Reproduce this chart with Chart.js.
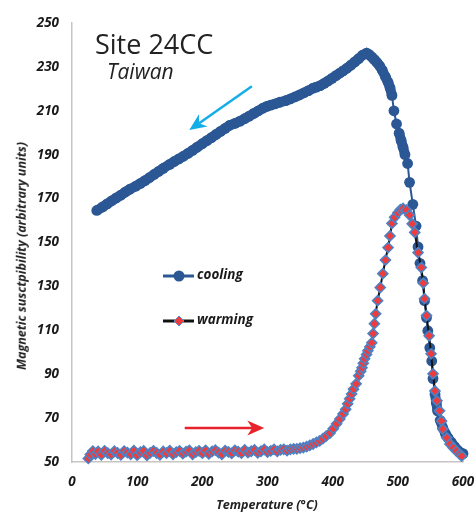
<!DOCTYPE html>
<html>
<head>
<meta charset="utf-8">
<script src="https://cdn.jsdelivr.net/npm/chart.js@4.4.1/dist/chart.umd.min.js"></script>
<style>
  html, body { margin: 0; padding: 0; background: #fff; }
  #wrap { position: relative; width: 475px; height: 512px; }
  .lbl { position: absolute; color: #222; white-space: nowrap; line-height: 1; font-family: "Open Sans", sans-serif; }
  #site { left: 95px; top: 30px; font-size: 27px; }
  #taiwan { left: 107px; top: 61px; font-size: 21px; font-style: italic; }
  .leg { font-size: 13.5px; font-weight: bold; font-style: italic; color: #1a1a1a; }
  #ytitle { left: 22px; top: 256px; font-size: 12.5px; font-weight: bold; font-style: italic;
            transform: translate(-50%, -50%) rotate(-90deg); }
  #xtitle { left: 267px; top: 505px; font-size: 12.5px; font-weight: bold; font-style: italic;
            transform: translate(-50%, -50%); }
</style>
</head>
<body>
<div id="wrap">
  <canvas id="chart" width="475" height="512"></canvas>
  <div class="lbl" id="site">Site 24CC</div>
  <div class="lbl" id="taiwan">Taiwan</div>
  <div class="lbl leg" style="left:197px; top:268px;">cooling</div>
  <div class="lbl leg" style="left:197px; top:313px;">warming</div>
  <div class="lbl" id="ytitle">Magnetic susctpibility (arbitrary units)</div>
  <div class="lbl" id="xtitle">Temperature (°C)</div>
</div>
<script>
// cooling run, in measurement order (600 °C down to room temperature)
const coolingT = [600, 596, 592, 587, 582, 577, 573, 569, 565, 561, 559, 557, 554, 552, 549, 546, 544, 541, 538, 534,
  531, 528, 523, 518, 515, 511, 508, 505, 502, 498, 494, 491, 488, 485, 481, 476, 472, 468, 464, 460,
  456, 452, 446, 440, 434, 428, 422, 416, 411, 405, 399, 393, 387, 381, 375, 370, 363, 356, 349, 342,
  335, 328, 319, 312, 305, 299, 293, 286, 279, 272, 265, 258, 250, 242, 235, 228, 221, 214, 207, 200,
  192, 185, 178, 171, 164, 157, 150, 140, 133, 126, 119, 112, 105, 98, 89, 82, 75, 68, 61, 54, 47, 38];
const coolingV = [53.8, 54.2, 55.3, 57, 59, 61, 63, 65.5, 69, 73.3, 77, 81, 88, 96, 102, 109.8, 115.8, 123.5, 132.6, 140.5,
  148, 157.5, 167.4, 177.4, 186, 190, 193.4, 196.5, 199.8, 204, 210, 217, 220.5, 223, 225.5, 228.5, 230.5, 232, 233.3, 234.5,
  235.6, 236.3, 235.4, 233.8, 232.3, 230.8, 229.4, 228.2, 227.2, 226, 224.8, 223.6, 222.5, 221.5, 220.8, 220.3, 219.2, 218.2, 217.2, 216.3,
  215.4, 214.6, 213.9, 213.2, 212.6, 212, 211.2, 210, 208.8, 207.6, 206.4, 205.3, 204.3, 203.4, 202, 200.6, 199.2, 197.8, 196.4, 195,
  193.4, 192, 190.6, 189.3, 188.1, 186.9, 185.6, 183.8, 182.4, 181, 179.6, 178.2, 176.9, 175.7, 174.3, 173, 171.6, 170.3, 169, 167.6, 166.2, 164.6];

// warming run, room temperature up to 600 °C
const warmingT = [25, 28, 32, 36, 40, 45, 50, 55, 60, 65, 70, 75, 80, 85, 90, 95, 100, 105, 110, 115,
  120, 125, 130, 135, 140, 145, 150, 155, 160, 165, 170, 175, 180, 185, 190, 195, 200, 205, 210, 215,
  220, 225, 230, 235, 240, 245, 250, 255, 260, 265, 270, 275, 280, 285, 290, 295, 300, 305, 310, 315,
  320, 325, 330, 335, 340, 345, 350, 355, 360, 365, 370, 375, 380, 385, 390, 396, 401, 406, 411, 416,
  420, 423, 426, 429, 432, 436, 440, 443, 445, 447, 449, 452, 454, 457, 460, 462, 464, 466, 469, 473,
  477, 481, 485, 488, 491, 495, 500, 504, 508, 513, 518, 522, 526, 531, 536, 539, 541, 544, 548, 551,
  554, 557, 560, 564, 567, 569, 575, 580, 585, 590, 595, 598];
const warmingV = [51.6, 53.4, 55.0, 53.6, 54.8, 53.3, 55.1, 54.0, 53.4, 54.9, 54.1, 53.2, 55.0, 54.3, 53.5, 55.2, 53.1, 54.5, 55.1, 53.0,
  54.2, 55.1, 54.1, 53.3, 54.8, 54.0, 55.2, 53.5, 54.5, 55.1, 53.8, 54.7, 55.3, 53.5, 54.5, 55.1, 54.0, 55.3, 53.7, 54.8,
  55.4, 54.3, 53.5, 55.2, 54.6, 53.9, 55.3, 54.7, 54.0, 55.5, 54.3, 54.9, 55.5, 54.2, 54.9, 55.7, 54.5, 55.1, 55.7, 54.8,
  55.5, 55.8, 55.2, 55.8, 56.0, 56.0, 56.3, 56.6, 57.0, 57.6, 58.2, 58.9, 59.6, 60.6, 61.8, 63.2, 65.2, 67.4, 69.6, 71.9,
  74, 76.5, 78.8, 81, 83.2, 85.6, 89.3, 91.3, 92.9, 95, 97, 99, 100.7, 102.5, 104.3, 108.5, 113, 117.5, 123.5, 129.5,
  135.8, 142, 147.7, 153, 158.7, 161.5, 163.5, 165, 165.5, 164.8, 162.5, 158.5, 154.6, 145.4, 138.6, 131.5, 124.4, 116.7, 107.5, 99.3,
  90.2, 82.4, 77.9, 73.3, 68.7, 65, 61, 58.2, 56.5, 55, 53.6, 52.7];

const xTicks = [0, 100, 200, 300, 400, 500, 600];
const yTicks = [50, 70, 90, 110, 130, 150, 170, 190, 210, 230, 250];

// arrows, in data units [T, value]
const arrows = [
  { from: [276, 221.2], to: [180, 201.2], color: '#13aee6' },
  { from: [173, 65.5], to: [295, 65.5], color: '#e8232b' }
];

const blue = '#2b5794';
const toPts = (xs, ys) => xs.map((t, i) => ({ x: t, y: ys[i] }));

function drawArrow(ctx, x1, y1, x2, y2, color) {
  const ang = Math.atan2(y2 - y1, x2 - x1);
  const len = 17, half = 7.5, notch = 12;
  ctx.save();
  ctx.strokeStyle = color;
  ctx.fillStyle = color;
  ctx.lineWidth = 2.5;
  ctx.beginPath();
  ctx.moveTo(x1, y1);
  ctx.lineTo(x2 - Math.cos(ang) * notch, y2 - Math.sin(ang) * notch);
  ctx.stroke();
  ctx.translate(x2, y2);
  ctx.rotate(ang);
  ctx.beginPath();
  ctx.moveTo(0, 0);
  ctx.lineTo(-len, -half);
  ctx.lineTo(-notch, 0);
  ctx.lineTo(-len, half);
  ctx.closePath();
  ctx.fill();
  ctx.restore();
}

const extras = {
  id: 'extras',
  afterDatasetsDraw(chart) {
    const { ctx, scales: { x, y } } = chart;
    arrows.forEach(a => drawArrow(ctx,
      x.getPixelForValue(a.from[0]), y.getPixelForValue(a.from[1]),
      x.getPixelForValue(a.to[0]), y.getPixelForValue(a.to[1]), a.color));

    // legend keys
    ctx.save();
    ctx.lineWidth = 3;
    ctx.strokeStyle = blue;
    ctx.beginPath(); ctx.moveTo(163, 276); ctx.lineTo(194, 276); ctx.stroke();
    ctx.fillStyle = blue;
    ctx.beginPath(); ctx.arc(179, 276, 5.5, 0, Math.PI * 2); ctx.fill();

    ctx.strokeStyle = '#111';
    ctx.beginPath(); ctx.moveTo(163, 321); ctx.lineTo(194, 321); ctx.stroke();
    ctx.beginPath();
    ctx.moveTo(179, 316); ctx.lineTo(184, 321); ctx.lineTo(179, 326); ctx.lineTo(174, 321); ctx.closePath();
    ctx.fillStyle = '#ef3b3b';
    ctx.fill();
    ctx.lineWidth = 1;
    ctx.strokeStyle = '#5b8bc9';
    ctx.stroke();
    ctx.restore();
  }
};

const tickFont = { family: 'Open Sans', size: 13.5, weight: 'bold', style: 'italic' };

// closely spaced readings merge into a solid band, as in the original plot
const bandWidth = c => Math.hypot(c.p1.x - c.p0.x, c.p1.y - c.p0.y) < 9 ? 10 : 2;

new Chart(document.getElementById('chart'), {
  type: 'scatter',
  data: {
    datasets: [
      {
        label: 'warming',
        data: toPts(warmingT, warmingV),
        showLine: true,
        borderColor: '#111',
        borderWidth: 2,
        pointStyle: 'rectRot',
        pointRadius: 5,
        pointBackgroundColor: '#ef3b3b',
        pointBorderColor: '#4f82c4',
        pointBorderWidth: 1.6,
        clip: false
      },
      {
        label: 'cooling',
        data: toPts(coolingT, coolingV),
        showLine: true,
        borderColor: blue,
        borderWidth: 2,
        segment: { borderWidth: bandWidth },
        pointStyle: 'circle',
        pointRadius: 5.4,
        pointBackgroundColor: blue,
        pointBorderColor: blue,
        pointBorderWidth: 0,
        clip: false
      }
    ]
  },
  options: {
    responsive: false,
    animation: false,
    events: [],
    layout: { autoPadding: false, padding: { top: 23, right: 0, left: 0, bottom: 0 } },
    plugins: {
      legend: { display: false },
      tooltip: { enabled: false }
    },
    scales: {
      x: {
        type: 'linear',
        min: 0,
        max: 600,
        afterBuildTicks: axis => { axis.ticks = xTicks.map(v => ({ value: v })); },
        afterFit: axis => { axis.height = 50; axis.paddingLeft = 0; axis.paddingRight = 12; },
        grid: { display: false, drawTicks: false },
        border: { display: true, color: '#c9c4c4', width: 1.5 },
        ticks: { font: tickFont, color: '#1a1a1a', padding: 12, maxRotation: 0 }
      },
      y: {
        type: 'linear',
        min: 50,
        max: 250,
        afterBuildTicks: axis => { axis.ticks = yTicks.map(v => ({ value: v })); },
        afterFit: axis => { axis.width = 72; },
        grid: { display: false, drawTicks: false },
        border: { display: true, color: '#c9c4c4', width: 1.5 },
        ticks: { font: tickFont, color: '#1a1a1a', padding: 13 }
      }
    }
  },
  plugins: [extras]
});
</script>
</body>
</html>
